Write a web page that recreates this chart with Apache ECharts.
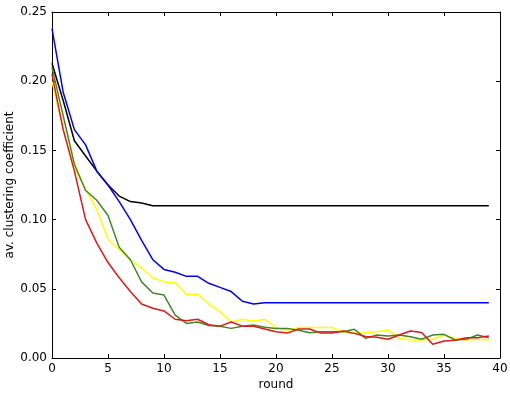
<!DOCTYPE html>
<html>
<head>
<meta charset="utf-8">
<script src="https://cdn.jsdelivr.net/npm/echarts@6/dist/echarts.min.js"></script>
<style>
  html, body { margin: 0; padding: 0; background: #fff; }
  #chart { width: 510px; height: 395px; }
</style>
</head>
<body>
<div id="chart"></div>
<script>
// rounds 0..39
var rounds = [];
for (var i = 0; i < 40; i++) rounds.push(i);

var blackVals = [0.213, 0.186, 0.157, 0.146, 0.135, 0.125, 0.117, 0.113, 0.112, 0.110,
  0.110, 0.110, 0.110, 0.110, 0.110, 0.110, 0.110, 0.110, 0.110, 0.110,
  0.110, 0.110, 0.110, 0.110, 0.110, 0.110, 0.110, 0.110, 0.110, 0.110,
  0.110, 0.110, 0.110, 0.110, 0.110, 0.110, 0.110, 0.110, 0.110, 0.110];
var blueVals = [0.238, 0.192, 0.165, 0.154, 0.135, 0.125, 0.113, 0.100, 0.085, 0.071,
  0.064, 0.062, 0.059, 0.059, 0.054, 0.051, 0.048, 0.041, 0.039, 0.040,
  0.040, 0.040, 0.040, 0.040, 0.040, 0.040, 0.040, 0.040, 0.040, 0.040,
  0.040, 0.040, 0.040, 0.040, 0.040, 0.040, 0.040, 0.040, 0.040, 0.040];
var yellowVals = [0.200, 0.165, 0.137, 0.122, 0.107, 0.086, 0.078, 0.071, 0.065, 0.058,
  0.055, 0.0544, 0.046, 0.046, 0.039, 0.0335, 0.026, 0.028, 0.0267, 0.028,
  0.022, 0.020, 0.022, 0.022, 0.022, 0.022, 0.019, 0.0178, 0.0183, 0.019,
  0.0202, 0.0142, 0.013, 0.013, 0.0135, 0.0166, 0.0142, 0.013, 0.0135, 0.013];
var greenVals = [0.210, 0.175, 0.140, 0.121, 0.114, 0.103, 0.080, 0.071, 0.055, 0.047,
  0.0455, 0.031, 0.025, 0.026, 0.0235, 0.023, 0.0214, 0.023, 0.0238, 0.0222,
  0.0214, 0.0214, 0.020, 0.0183, 0.019, 0.019, 0.019, 0.0207, 0.0142, 0.0166,
  0.0159, 0.0166, 0.0154, 0.0135, 0.0166, 0.0171, 0.013, 0.0135, 0.0166, 0.0147];
var redVals = [0.205, 0.165, 0.135, 0.100, 0.083, 0.069, 0.058, 0.048, 0.039, 0.036,
  0.034, 0.028, 0.027, 0.028, 0.024, 0.023, 0.026, 0.023, 0.023, 0.021,
  0.019, 0.018, 0.021, 0.021, 0.018, 0.018, 0.0195, 0.0178, 0.0155, 0.015,
  0.0135, 0.0166, 0.0195, 0.0185, 0.010, 0.0123, 0.0128, 0.0147, 0.0147, 0.0159];

var font = 'DejaVu Sans';

function pairs(vals) {
  return vals.map(function (v, i) { return [rounds[i], v]; });
}
function line(vals, color) {
  return {
    type: 'line',
    data: pairs(vals),
    showSymbol: false,
    symbol: 'none',
    lineStyle: { color: color, width: 1.5 },
    itemStyle: { color: color },
    animation: false
  };
}

var chart = echarts.init(document.getElementById('chart'));
var axisLine = { show: true, onZero: false, lineStyle: { color: '#000', width: 1 } };
var ticks = { show: true, inside: true, length: 4, lineStyle: { color: '#000' } };
var option = {
  backgroundColor: '#fff',
  grid: { left: 52, right: 10, top: 12, bottom: 37, containLabel: false, outerBoundsMode: 'none' },
  xAxis: [{
    type: 'value', min: 0, max: 40, interval: 5,
    axisLine: axisLine,
    axisTick: ticks,
    axisLabel: { color: '#000', fontFamily: font, fontSize: 12, margin: 5 },
    splitLine: { show: false },
    name: 'round', nameLocation: 'middle', nameGap: 21, nameMoveOverlap: false,
    nameTextStyle: { color: '#000', fontFamily: font, fontSize: 12 }
  }, {
    type: 'value', min: 0, max: 40, interval: 5, position: 'top',
    axisLine: axisLine,
    axisTick: ticks,
    axisLabel: { show: false },
    splitLine: { show: false }
  }],
  yAxis: [{
    type: 'value', min: 0, max: 0.25, interval: 0.05,
    axisLine: axisLine,
    axisTick: ticks,
    axisLabel: { color: '#000', fontFamily: font, fontSize: 12, margin: 5,
      formatter: function (v) { return v.toFixed(2); } },
    splitLine: { show: false },
    name: 'av. clustering coefficient', nameLocation: 'middle', nameGap: 36, nameMoveOverlap: false,
    nameTextStyle: { color: '#000', fontFamily: font, fontSize: 12 }
  }, {
    type: 'value', min: 0, max: 0.25, interval: 0.05, position: 'right',
    axisLine: axisLine,
    axisTick: ticks,
    axisLabel: { show: false },
    splitLine: { show: false }
  }],
  series: [
    line(blackVals, '#000000'),
    line(blueVals, '#0000ff'),
    line(yellowVals, '#ffff00'),
    line(greenVals, '#3f8a27'),
    line(redVals, '#e01818')
  ]
};
chart.setOption(option);
</script>
</body>
</html>
